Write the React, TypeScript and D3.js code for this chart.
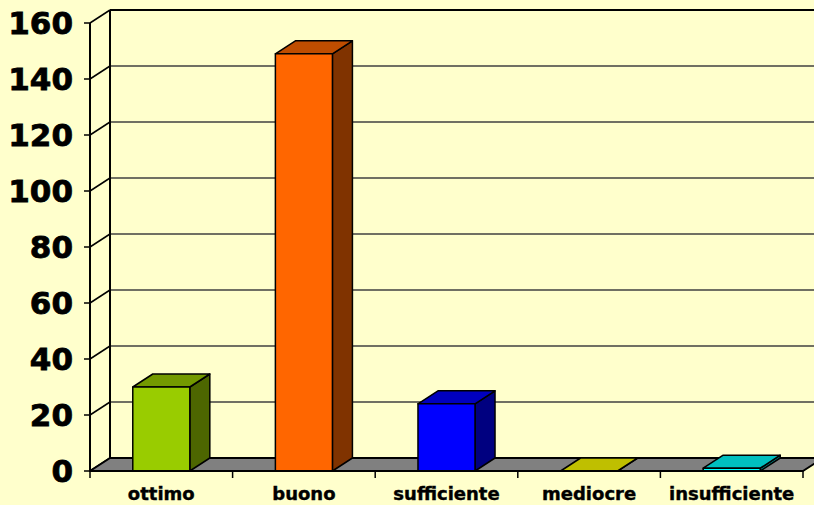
import React from 'react';
import * as d3 from 'd3';

const categories = ['ottimo', 'buono', 'sufficiente', 'mediocre', 'insufficiente'];
const values = [30, 149, 24, 0, 1];
const frontColors = ['#99CC00', '#FF6600', '#0000FF', '#FFFF00', '#00FFFF'];
const yTicks = [0, 20, 40, 60, 80, 100, 120, 140, 160];

const width = 814;
const height = 505;
// 3D depth offset
const dx = 20;
const dy = -13;

const shade = (hex: string, k: number) => {
  const c = d3.rgb(hex);
  return d3.rgb(c.r * k, c.g * k, c.b * k).formatHex();
};

const App = () => {
  const x = d3.scaleBand<string>()
    .domain(categories)
    .range([90, 803])
    .paddingInner(0.6)
    .paddingOuter(0.3);

  const y = d3.scaleLinear().domain([0, 160]).range([471, 23]);

  const x0 = 90;
  const x1 = 803;
  const y0 = y(0);
  const yTop = y(160);
  const step = x.step();
  const catEdges = d3.range(categories.length + 1).map(i => x0 + i * step);

  const poly = (pts: number[][]) => pts.map(p => p.join(',')).join(' ');
  const font = "Verdana, 'DejaVu Sans', sans-serif";

  return (
    <svg width={width} height={height} style={{ position: 'fixed', left: 0, top: 0, background: '#FFFFCC' }}>
      <rect x={0} y={0} width={width} height={height} fill="#FFFFCC" />

      {/* back wall gridlines */}
      {yTicks.map(t => (
        <line key={'g' + t} x1={x0 + dx} x2={width + 5} y1={y(t) + dy} y2={y(t) + dy}
          stroke={t === 160 ? '#000' : '#404040'} strokeWidth={t === 160 ? 2 : 1.5} />
      ))}
      {/* side wall diagonals */}
      {yTicks.map(t => (
        <line key={'d' + t} x1={x0} x2={x0 + dx} y1={y(t)} y2={y(t) + dy} stroke="#000" strokeWidth={1.5} />
      ))}
      <line x1={x0 + dx} x2={x0 + dx} y1={yTop + dy} y2={y0 + dy} stroke="#000" strokeWidth={2} />

      {/* floor */}
      <polygon points={poly([[x0, y0], [x1, y0], [x1 + dx, y0 + dy], [x0 + dx, y0 + dy]])}
        fill="#808080" stroke="#000" strokeWidth={2} strokeLinejoin="round" />

      {/* bars */}
      {categories.map((c, i) => {
        const bx = x(c) as number;
        const bw = x.bandwidth();
        const top = y(values[i]);
        return (
          <g key={c} stroke="#000" strokeWidth={1.5} strokeLinejoin="round">
            <polygon points={poly([[bx + bw, top], [bx + bw + dx, top + dy], [bx + bw + dx, y0 + dy], [bx + bw, y0]])}
              fill={shade(frontColors[i], 0.5)} />
            <polygon points={poly([[bx, top], [bx + dx, top + dy], [bx + bw + dx, top + dy], [bx + bw, top]])}
              fill={shade(frontColors[i], 0.75)} />
            {values[i] > 0 && <rect x={bx} y={top} width={bw} height={y0 - top} fill={frontColors[i]} />}
          </g>
        );
      })}

      {/* axes */}
      <line x1={x0} x2={x0} y1={yTop} y2={y0 + 1} stroke="#000" strokeWidth={2} />
      <line x1={x0} x2={x1} y1={y0} y2={y0} stroke="#000" strokeWidth={2} />
      {yTicks.map(t => (
        <line key={'t' + t} x1={x0 - 6} x2={x0} y1={y(t)} y2={y(t)} stroke="#000" strokeWidth={1.5} />
      ))}
      {catEdges.map((e, i) => (
        <line key={'c' + i} x1={e} x2={e} y1={y0} y2={y0 + 7} stroke="#000" strokeWidth={1.5} />
      ))}

      {/* labels */}
      {yTicks.map(t => (
        <text key={'l' + t} x={73} y={y(t)} dy="0.37em" textAnchor="end"
          fontFamily={font} fontWeight="bold" fontSize={31} fill="#000" stroke="#000" strokeWidth={0.8}>{t}</text>
      ))}
      {categories.map(c => (
        <text key={'x' + c} x={(x(c) as number) + x.bandwidth() / 2} y={500} textAnchor="middle"
          fontFamily={font} fontWeight="bold" fontSize={18} fill="#000" stroke="#000" strokeWidth={0.4}>{c}</text>
      ))}
    </svg>
  );
};

export default App;
